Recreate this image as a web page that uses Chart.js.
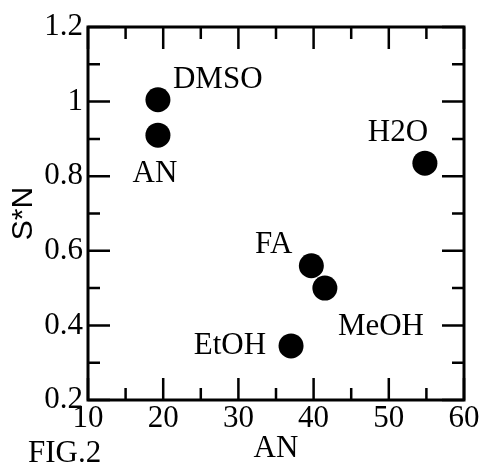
<!DOCTYPE html>
<html>
<head>
<meta charset="utf-8">
<script src="https://cdn.jsdelivr.net/npm/chart.js@4"></script>
<style>
    html, body { margin: 0; padding: 0; background: #fff; }
    #wrap { width: 482px; height: 464px; position: relative; }
</style>
</head>
<body>
<div id="wrap"><canvas id="chart"></canvas></div>
<script>
// solvents, acceptor number (AN) and S*N
const solvents = ['DMSO', 'AN', 'H2O', 'FA', 'MeOH', 'EtOH'];
const anValues = [19.3, 19.3, 54.8, 39.7, 41.5, 37.0];
const snValues = [1.005, 0.91, 0.835, 0.56, 0.50, 0.345];

const xTickLabels = ['10', '20', '30', '40', '50', '60'];
const yTickLabels = ['0.2', '0.4', '0.6', '0.8', '1', '1.2'];

// label placement next to each point: [dx, dy, align]
const labelPlacement = [
    [15, -20, 'left'],
    [-3, 39, 'center'],
    [-27, -30, 'center'],
    [-19, -21, 'right'],
    [13, 39, 'left'],
    [-25, 0, 'right'],
];

const serif = '"Liberation Serif", "Times New Roman", serif';

const framePlugin = {
    id: 'frame',
    afterDatasetsDraw(chart) {
        const ctx = chart.ctx;
        const {left, right, top, bottom} = chart.chartArea;
        const xs = chart.scales.x;
        const ys = chart.scales.y;
        ctx.save();
        ctx.strokeStyle = '#000';
        ctx.lineCap = 'butt';

        // inward ticks on all four sides
        ctx.lineWidth = 2.5;
        ctx.beginPath();
        xs.ticks.forEach(t => {
            const px = xs.getPixelForValue(t.value);
            const len = xTickLabels.includes(String(t.value)) ? 22 : 12;
            ctx.moveTo(px, bottom);
            ctx.lineTo(px, bottom - len);
            ctx.moveTo(px, top);
            ctx.lineTo(px, top + len);
        });
        ys.ticks.forEach(t => {
            const py = ys.getPixelForValue(t.value);
            const len = yTickLabels.includes(String(+t.value.toFixed(1))) ? 22 : 12;
            ctx.moveTo(left, py);
            ctx.lineTo(left + len, py);
            ctx.moveTo(right, py);
            ctx.lineTo(right - len, py);
        });
        ctx.stroke();

        ctx.lineWidth = 3;
        ctx.strokeRect(left, top, right - left, bottom - top);

        // point labels
        ctx.fillStyle = '#000';
        ctx.font = '31px ' + serif;
        ctx.textBaseline = 'middle';
        solvents.forEach((name, i) => {
            const [dx, dy, align] = labelPlacement[i];
            ctx.textAlign = align;
            ctx.fillText(name, xs.getPixelForValue(anValues[i]) + dx, ys.getPixelForValue(snValues[i]) + dy);
        });

        // figure caption
        ctx.textAlign = 'left';
        ctx.textBaseline = 'alphabetic';
        ctx.fillText('FIG.2', 28, 462);
        ctx.restore();
    }
};

new Chart(document.getElementById('chart'), {
    type: 'scatter',
    data: {
        datasets: [{
            data: anValues.map((x, i) => ({x, y: snValues[i]})),
            backgroundColor: '#000',
            borderWidth: 0,
            pointRadius: 12.5,
            pointHoverRadius: 12.5,
        }],
    },
    options: {
        responsive: true,
        maintainAspectRatio: false,
        animation: false,
        events: [],
        layout: {padding: {left: 0, right: 18, top: 27, bottom: 0}},
        plugins: {legend: {display: false}, tooltip: {enabled: false}},
        scales: {
            x: {
                type: 'linear',
                min: 10,
                max: 60,
                grid: {display: false, drawTicks: false},
                border: {display: false},
                ticks: {
                    stepSize: 5,
                    padding: 0,
                    color: '#000',
                    font: {family: serif, size: 31},
                    maxRotation: 0,
                    autoSkip: false,
                    callback: v => xTickLabels.includes(String(v)) ? String(v) : '',
                },
                title: {
                    display: true,
                    text: 'AN',
                    color: '#000',
                    font: {family: serif, size: 31, lineHeight: 1},
                    padding: 0,
                },
                afterFit: scale => { scale.height = 64; },
            },
            y: {
                type: 'linear',
                min: 0.2,
                max: 1.2,
                grid: {display: false, drawTicks: false},
                border: {display: false},
                ticks: {
                    stepSize: 0.1,
                    padding: 5,
                    color: '#000',
                    font: {family: serif, size: 31},
                    autoSkip: false,
                    callback: v => {
                        const s = String(+v.toFixed(1));
                        return yTickLabels.includes(s) ? s : '';
                    },
                },
                title: {
                    display: true,
                    text: 'S*N',
                    color: '#000',
                    font: {family: '"Liberation Sans", Arial, sans-serif', size: 30, lineHeight: 1},
                    padding: {top: 9, bottom: 0},
                },
                afterFit: scale => { scale.width = 88; },
            },
        },
    },
    plugins: [framePlugin],
});
</script>
</body>
</html>
